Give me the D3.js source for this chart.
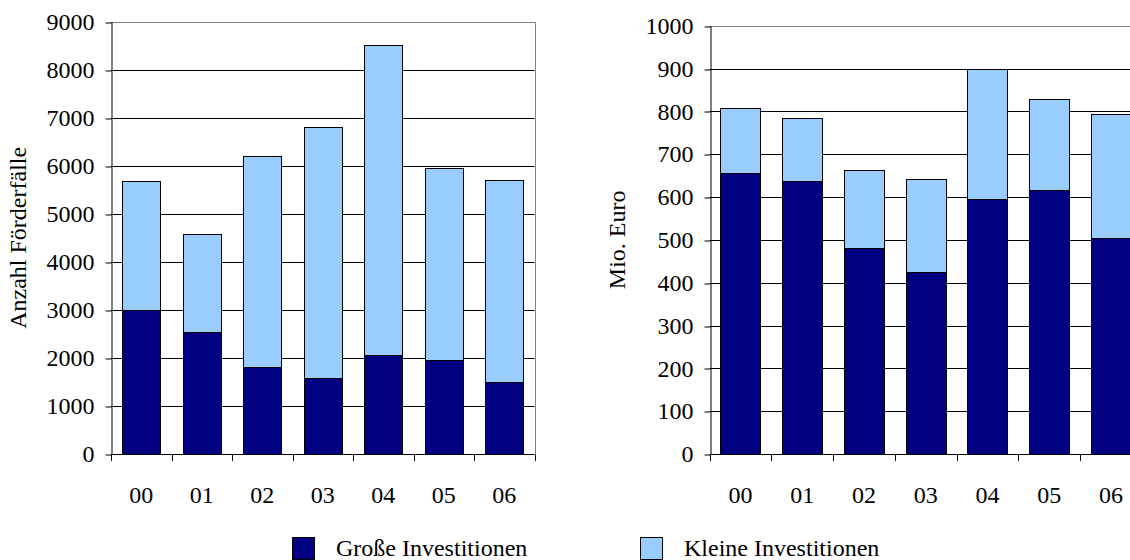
<!DOCTYPE html>
<html>
<head>
<meta charset="utf-8">
<script src="https://cdn.jsdelivr.net/npm/d3@7"></script>
<style>
  html, body { margin: 0; padding: 0; background: #fff; }
  svg { display: block; }
  svg text { font-family: "Liberation Serif", "Times New Roman", serif !important; fill: #000; }
</style>
</head>
<body>
<svg id="chart" width="1130" height="560"></svg>
<script>
// Jahrgänge (2000–2006)
const years = ["00", "01", "02", "03", "04", "05", "06"];

// Anzahl Förderfälle
const casesLarge = [3000, 2540, 1820, 1580, 2070, 1960, 1490];
const casesSmall = [2690, 2040, 4380, 5220, 6440, 4000, 4220];

// Fördervolumen in Mio. Euro
const euroLarge = [655, 638, 481, 425, 595, 617, 504];
const euroSmall = [152, 147, 181, 217, 305, 213, 291];

const casesTicks = [0, 1000, 2000, 3000, 4000, 5000, 6000, 7000, 8000, 9000];
const euroTicks = [0, 100, 200, 300, 400, 500, 600, 700, 800, 900, 1000];

const seriesNames = ["Große Investitionen", "Kleine Investitionen"];
const seriesColors = ["#000080", "#99ccff"];

const serif = "'Liberation Serif', 'Times New Roman', serif";

const svg = d3.select("#chart");
svg.append("rect").attr("width", 1130).attr("height", 560).attr("fill", "#fff");

function drawPanel(opts) {
  const { left, right, top, bottom, large, small, ticks, title, titleX, pad } = opts;
  const g = svg.append("g");

  const rows = years.map((y, i) => ({ year: y, large: large[i], small: small[i] }));
  const stacked = d3.stack().keys(["large", "small"])(rows);

  const x = d3.scaleBand().domain(years).range([left, right])
    .paddingInner(pad).paddingOuter(pad / 2);
  const y = d3.scaleLinear().domain([0, ticks[ticks.length - 1]]).range([bottom, top]);

  // horizontal gridlines
  g.append("g").selectAll("line")
    .data(ticks.slice(1, -1))
    .join("line")
    .attr("x1", left).attr("x2", right)
    .attr("y1", d => Math.round(y(d)) + 0.5).attr("y2", d => Math.round(y(d)) + 0.5)
    .attr("stroke", "#000").attr("stroke-width", 1);

  // plot border (top and right)
  const yTop = Math.round(y(ticks[ticks.length - 1])) + 0.5;
  g.append("path")
    .attr("d", `M${left},${yTop}H${Math.round(right) + 0.5}V${Math.round(bottom) + 0.5}`)
    .attr("fill", "none").attr("stroke", "#808080").attr("stroke-width", 1);

  // stacked bars
  g.append("g").selectAll("g")
    .data(stacked)
    .join("g")
    .attr("fill", (d, i) => seriesColors[i])
    .selectAll("rect")
    .data(d => d)
    .join("rect")
    .attr("x", d => Math.round(x(d.data.year)) + 0.5)
    .attr("width", Math.round(x.bandwidth()))
    .attr("y", d => Math.round(y(d[1])) + 0.5)
    .attr("height", d => Math.round(y(d[0])) - Math.round(y(d[1])))
    .attr("stroke", "#000").attr("stroke-width", 1);

  // y axis
  const yAxis = g.append("g")
    .attr("transform", `translate(${Math.round(left) + 0.5},0)`)
    .call(d3.axisLeft(y).tickValues(ticks).tickFormat(d3.format("d"))
      .tickSize(6).tickSizeOuter(0).tickPadding(11))
    .attr("font-family", serif).attr("font-size", 24);
  yAxis.select(".domain").attr("stroke", "#000");
  yAxis.selectAll(".tick line").attr("stroke", "#000")
    .attr("transform", d => `translate(0,${Math.round(y(d)) + 0.5 - y(d)})`);
  yAxis.selectAll(".tick text").style("font-family", serif).style("font-size", "24px");

  // x axis: labels centred under bars, tick marks between categories
  const xAxis = g.append("g")
    .attr("transform", `translate(0,${Math.round(bottom) + 0.5})`)
    .call(d3.axisBottom(x).tickSize(0).tickPadding(31).tickSizeOuter(0))
    .attr("font-family", serif).attr("font-size", 24);
  xAxis.select(".domain").remove();
  xAxis.selectAll(".tick text").style("font-family", serif).style("font-size", "24px");

  const step = x.step();
  const bounds = d3.range(years.length + 1).map(i => x.range()[0] + i * step);
  g.append("line")
    .attr("x1", left).attr("x2", right)
    .attr("y1", Math.round(bottom) + 0.5).attr("y2", Math.round(bottom) + 0.5)
    .attr("stroke", "#000");
  g.append("g").selectAll("line")
    .data(bounds)
    .join("line")
    .attr("x1", d => Math.round(d) + 0.5).attr("x2", d => Math.round(d) + 0.5)
    .attr("y1", Math.round(bottom) + 0.5).attr("y2", Math.round(bottom) + 7)
    .attr("stroke", "#000");

  // axis title
  g.append("text")
    .attr("transform", `translate(${titleX},${(top + bottom) / 2}) rotate(-90)`)
    .attr("text-anchor", "middle")
    .attr("dominant-baseline", "central")
    .style("font-family", serif)
    .style("font-size", "24px")
    .text(title);
}

drawPanel({
  left: 111, right: 534.5, top: 21.7, bottom: 454,
  large: casesLarge, small: casesSmall, ticks: casesTicks,
  title: "Anzahl Förderfälle", titleX: 18, pad: 0.38
});

drawPanel({
  left: 709.5, right: 1142, top: 25.7, bottom: 454,
  large: euroLarge, small: euroSmall, ticks: euroTicks,
  title: "Mio. Euro", titleX: 617, pad: 0.35
});

// legend
const legendX = [292, 640];
const legend = svg.append("g");
seriesNames.forEach((name, i) => {
  legend.append("rect")
    .attr("x", legendX[i] + 0.5).attr("y", 537.5)
    .attr("width", 22).attr("height", 22)
    .attr("fill", seriesColors[i]).attr("stroke", "#000");
  legend.append("text")
    .attr("x", legendX[i] + 44).attr("y", 556)
    .style("font-family", serif)
    .style("font-size", "24px")
    .text(name);
});
</script>
</body>
</html>
